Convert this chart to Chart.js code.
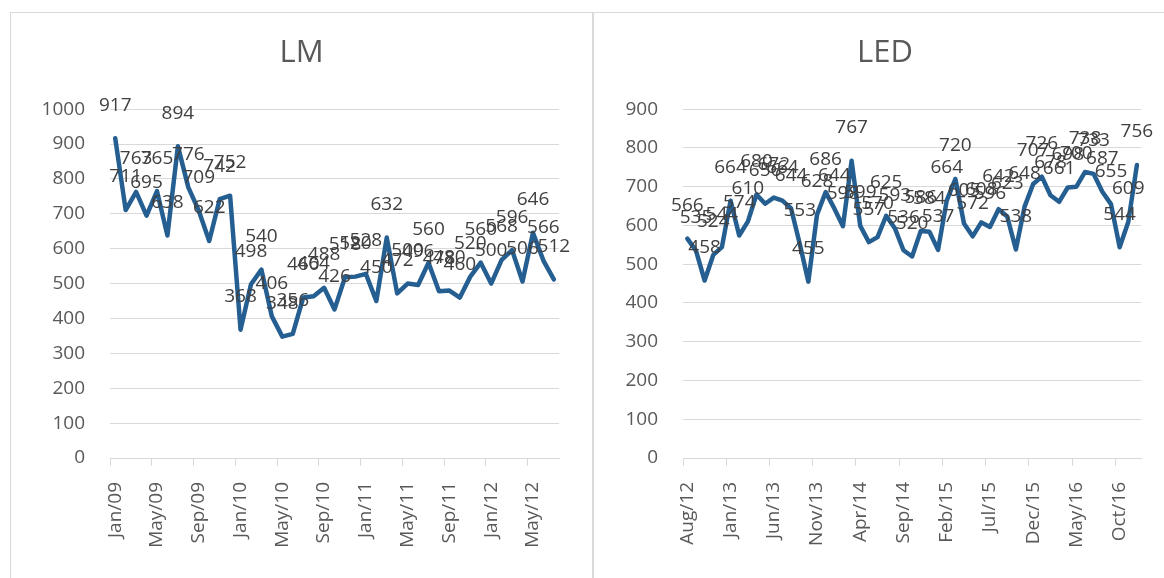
<!DOCTYPE html>
<html>
<head>
<meta charset="utf-8">
<title>LM / LED</title>
<script src="https://cdn.jsdelivr.net/npm/chart.js@4"></script>
<style>
body { margin: 0; background: #fff; width: 1164px; height: 578px; overflow: hidden; position: relative; }
.painel { position: absolute; border: 1px solid #d9d9d9; box-sizing: border-box; }
.grafico { position: absolute; }
</style>
</head>
<body>
<div class="painel" style="left:10px; top:12px; width:583px; height:600px"></div>
<div class="painel" style="left:593px; top:12px; width:600px; height:600px"></div>
<div class="grafico" style="left:10px; top:12px; width:583px; height:566px"><canvas id="chartLM"></canvas></div>
<div class="grafico" style="left:594px; top:12px; width:582px; height:566px"><canvas id="chartLED"></canvas></div>
<script>
var meses_lm = [
  'Jan/09','Feb/09','Mar/09','Apr/09','May/09','Jun/09','Jul/09','Aug/09','Sep/09','Oct/09','Nov/09','Dec/09',
  'Jan/10','Feb/10','Mar/10','Apr/10','May/10','Jun/10','Jul/10','Aug/10','Sep/10','Oct/10','Nov/10','Dec/10',
  'Jan/11','Feb/11','Mar/11','Apr/11','May/11','Jun/11','Jul/11','Aug/11','Sep/11','Oct/11','Nov/11','Dec/11',
  'Jan/12','Feb/12','Mar/12','Apr/12','May/12','Jun/12','Jul/12'
]
var valores_lm = [
  917, 711, 763, 695, 765, 638, 894, 776, 709, 622,
  742, 752, 368, 498, 540, 406, 348, 356, 460, 464,
  488, 426, 518, 520, 528, 450, 632, 472, 500, 496,
  560, 478, 480, 460, 520, 560, 500, 568, 596, 506,
  646, 566, 512
]

var meses_led = [
  'Aug/12','Sep/12','Oct/12','Nov/12','Dec/12',
  'Jan/13','Feb/13','Mar/13','Apr/13','May/13','Jun/13','Jul/13','Aug/13','Sep/13','Oct/13','Nov/13','Dec/13',
  'Jan/14','Feb/14','Mar/14','Apr/14','May/14','Jun/14','Jul/14','Aug/14','Sep/14','Oct/14','Nov/14','Dec/14',
  'Jan/15','Feb/15','Mar/15','Apr/15','May/15','Jun/15','Jul/15','Aug/15','Sep/15','Oct/15','Nov/15','Dec/15',
  'Jan/16','Feb/16','Mar/16','Apr/16','May/16','Jun/16','Jul/16','Aug/16','Sep/16','Oct/16','Nov/16','Dec/16'
]
var valores_led = [
  566, 535, 458, 524, 544, 664, 574, 610, 680, 656,
  672, 664, 644, 553, 455, 628, 686, 644, 598, 767,
  599, 557, 570, 625, 593, 536, 520, 586, 584, 537,
  664, 720, 605, 572, 608, 596, 642, 623, 538, 648,
  707, 726, 678, 661, 698, 700, 738, 733, 687, 655,
  544, 609, 756
]

var azul = '#255e91'
var cinza = '#595959'
var linha_grade = '#d9d9d9'
var fonte = '"Open Sans", "Noto Sans", sans-serif'

// rotulo de dados em cima de cada ponto, como no Excel
var rotulosDados = {
  id: 'rotulosDados',
  afterDatasetsDraw: function(chart) {
    var ctx = chart.ctx
    var meta = chart.getDatasetMeta(0)
    var dados = chart.data.datasets[0].data
    ctx.save()
    ctx.font = '19px ' + fonte
    ctx.fillStyle = '#404040'
    ctx.textAlign = 'center'
    ctx.textBaseline = 'middle'
    meta.data.forEach(function(p, i) {
      ctx.fillText(String(dados[i]), p.x, p.y - 33)
    })
    ctx.restore()
  }
}

function montar_grafico(id, titulo, rotulos, valores, passo, maximo, largura_y) {
  var ctx = document.getElementById(id).getContext('2d')
  return new Chart(ctx, {
    type: 'line',
    data: {
      labels: rotulos,
      datasets: [{
        data: valores,
        borderColor: azul,
        borderWidth: 4.5,
        borderJoinStyle: 'round',
        borderCapStyle: 'round',
        pointRadius: 0,
        tension: 0,
        fill: false
      }]
    },
    options: {
      responsive: true,
      maintainAspectRatio: false,
      animation: false,
      layout: { padding: { left: 30, right: 30, top: 23, bottom: 10 } },
      plugins: {
        legend: { display: false },
        tooltip: { enabled: false },
        title: {
          display: true,
          text: titulo,
          color: cinza,
          font: { family: fonte, size: 31, weight: 'normal', lineHeight: 1.2 },
          padding: { top: 0, bottom: 37 }
        }
      },
      scales: {
        x: {
          offset: true,
          grid: {
            offset: true,
            drawOnChartArea: false,
            drawTicks: true,
            tickLength: 8,
            color: function(c) { return c.index % passo == 0 ? linha_grade : 'rgba(0,0,0,0)' }
          },
          border: { color: linha_grade, width: 1 },
          ticks: {
            autoSkip: false,
            maxRotation: 90,
            minRotation: 90,
            padding: 16,
            color: cinza,
            font: { family: fonte, size: 19 },
            callback: function(v, i) { return i % passo == 0 ? this.getLabelForValue(v) : '' }
          },
          afterFit: function(s) { s.height = 110 }
        },
        y: {
          min: 0,
          max: maximo,
          ticks: {
            stepSize: 100,
            padding: 25,
            color: cinza,
            font: { family: fonte, size: 19 },
            callback: function(v) { return String(v) }
          },
          grid: { color: linha_grade, lineWidth: 1, drawTicks: false },
          border: { display: false },
          afterFit: function(s) { s.width = largura_y }
        }
      }
    },
    plugins: [rotulosDados]
  })
}

montar_grafico('chartLM', 'LM', meses_lm, valores_lm, 4, 1000, 70)
montar_grafico('chartLED', 'LED', meses_led, valores_led, 5, 900, 59)
</script>
</body>
</html>
